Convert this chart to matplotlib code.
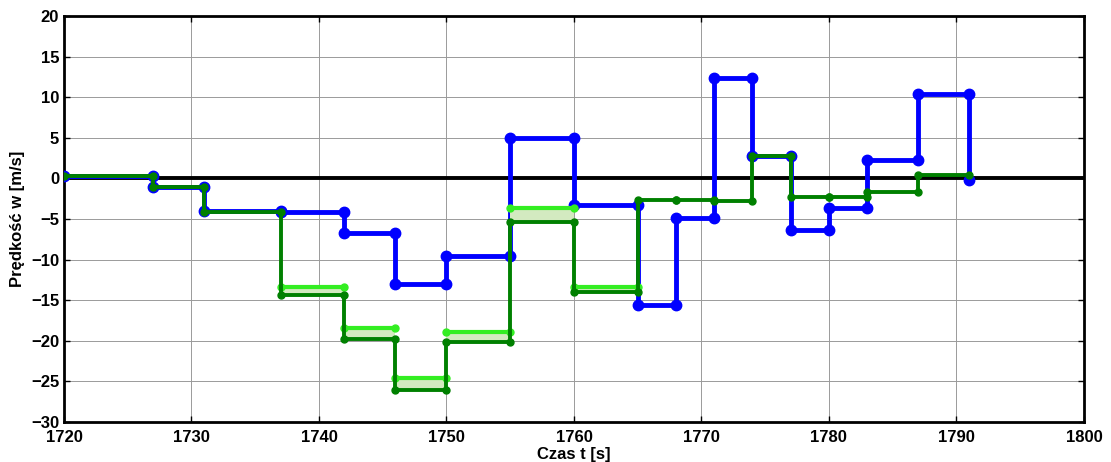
import matplotlib.pyplot as plt
import numpy as np

plt.rcParams['font.family'] = ['Liberation Sans', 'DejaVu Sans']
plt.rcParams['font.weight'] = 'bold'

# step boundaries [s]
times = [1720, 1727, 1731, 1737, 1742, 1746, 1750, 1755, 1760, 1765,
         1768, 1771, 1774, 1777, 1780, 1783, 1787, 1791]

# value held on each interval [m/s]
blue_vals = [0.3, -1.1, -4.0, -4.2, -6.7, -13.0, -9.6, 5.0, -3.3, -15.6,
             -4.9, 12.3, 2.7, -6.4, -3.6, 2.2, 10.4]
blue_end = -0.2

green_vals = [0.3, -1.1, -4.1, -14.4, -19.8, -26.0, -20.1, -5.4, -14.0, -2.7,
              -2.7, -2.8, 2.7, -2.3, -2.3, -1.7, 0.4]

# bright green estimate on intervals 1737..1765
light_start = 3
light_vals = [-13.4, -18.4, -24.6, -18.9, -3.7, -13.4]


def stair(t, v, end=None):
    t = np.asarray(t, dtype=float)
    v = np.asarray(v, dtype=float)
    xs = np.column_stack([t[:-1], t[1:]]).ravel()
    ys = np.repeat(v, 2)
    if end is not None:
        xs = np.append(xs, t[-1])
        ys = np.append(ys, end)
    return xs, ys


fig = plt.figure(figsize=(11.11, 4.62), dpi=100)
ax = fig.add_axes([0.0576, 0.0866, 0.918, 0.879])

ax.axhline(0, color='black', lw=2.8, zorder=2)

bx, by = stair(times, blue_vals, blue_end)
ax.plot(bx, by, color='#0000ff', lw=3.5, marker='o', ms=7.5, zorder=3)

# shaded bands + bright green segments
for k, lv in enumerate(light_vals):
    i = light_start + k
    t0, t1 = times[i], times[i + 1]
    gv = green_vals[i]
    ax.fill_between([t0, t1], [lv + 0.2, lv + 0.2], [gv, gv],
                    color='#d3eac0', lw=0, zorder=4)
    ax.plot([t0, t1], [lv, lv], color='#33ee22', lw=3, marker='o', ms=5, zorder=5)

gx, gy = stair(times, green_vals)
ax.plot(gx, gy, color='#008000', lw=2.8, marker='o', ms=5, zorder=6)

ax.set_xlim(1720, 1800)
ax.set_ylim(-30, 20)
ax.set_xticks(np.arange(1720, 1801, 10))
ax.set_yticks(np.arange(-30, 21, 5))
ax.grid(True, color='#9a9a9a', lw=0.7, ls='-')
ax.set_axisbelow(True)
ax.tick_params(direction='in', length=4, width=1, labelsize=12,
               top=True, right=True)
ax.tick_params(axis='x', pad=6)
for s in ax.spines.values():
    s.set_linewidth(2)

ax.set_xlabel('Czas t [s]', fontsize=12, fontweight='bold', labelpad=1)
ax.set_ylabel('Prędkość w [m/s]', fontsize=12, fontweight='bold', labelpad=4)

fig.savefig('out.png', dpi=100)
